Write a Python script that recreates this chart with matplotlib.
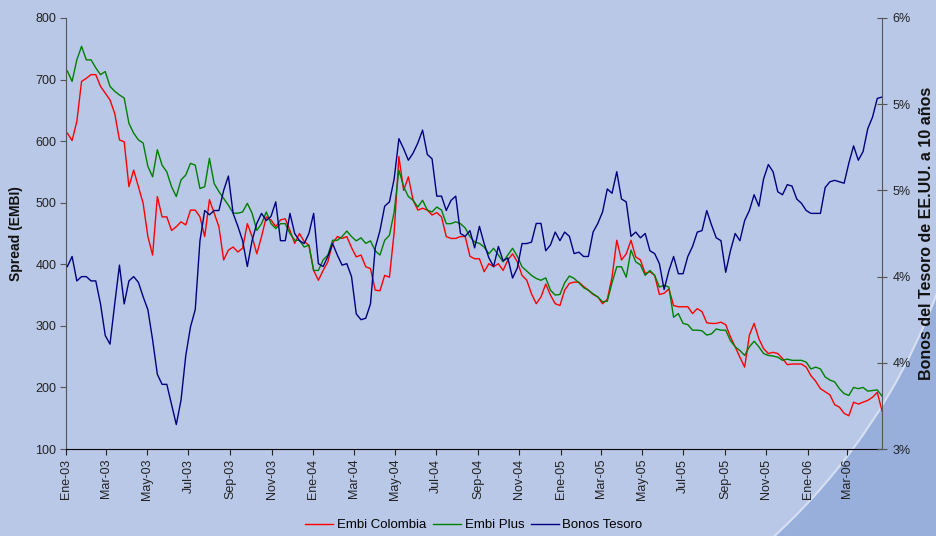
import matplotlib
matplotlib.use("Agg")
import matplotlib.pyplot as plt
import matplotlib.dates as mdates
from matplotlib.patches import Ellipse
import pandas as pd

plt.rcParams['font.family'] = ['Liberation Sans', 'DejaVu Sans']

# ---- data (weekly readings) ----
dates = pd.date_range('2003-01-03', periods=173, freq='7D')

embi_colombia = [
    613, 601, 632, 697, 702, 708, 708, 689, 678, 667, 645, 602, 599, 526, 553, 526, 499, 445, 415, 510,
    477, 477, 455, 461, 469, 464, 488, 488, 477, 445, 505, 483, 461, 407, 423, 428, 420, 426, 466, 445,
    417, 445, 477, 472, 461, 472, 474, 455, 434, 450, 437, 431, 390, 374, 390, 404, 434, 445, 442, 445,
    427, 412, 415, 396, 393, 358, 357, 382, 379, 452, 575, 520, 542, 504, 488, 491, 488, 480, 484, 477,
    445, 442, 442, 445, 445, 413, 409, 409, 388, 401, 396, 401, 390, 407, 417, 404, 382, 374, 352, 336,
    347, 368, 350, 336, 333, 358, 369, 371, 371, 364, 358, 351, 347, 336, 343, 379, 439, 407, 417, 439,
    412, 407, 385, 388, 382, 351, 353, 360, 333, 331, 331, 331, 320, 328, 323, 305, 304, 304, 306, 302,
    282, 266, 249, 233, 285, 304, 279, 263, 255, 257, 255, 247, 237, 238, 238, 238, 233, 219, 210, 198,
    193, 188, 172, 168, 158, 154, 176, 173, 176, 179, 184, 192, 162]

embi_plus = [
    714, 697, 732, 754, 732, 732, 719, 708, 713, 689, 681, 675, 670, 629, 613, 602, 597, 559, 542, 586,
    561, 550, 526, 510, 537, 545, 564, 561, 523, 526, 572, 531, 518, 507, 496, 483, 483, 485, 499, 483,
    455, 466, 485, 466, 458, 466, 466, 450, 439, 439, 428, 431, 390, 390, 407, 415, 439, 439, 445, 454,
    445, 438, 443, 434, 438, 422, 415, 439, 447, 485, 553, 526, 510, 504, 493, 504, 488, 485, 493, 488,
    466, 466, 469, 466, 459, 445, 436, 434, 428, 417, 426, 415, 404, 415, 426, 413, 396, 389, 382, 377,
    374, 378, 358, 350, 351, 370, 381, 377, 370, 362, 358, 352, 347, 339, 340, 370, 396, 396, 379, 423,
    404, 399, 382, 390, 382, 363, 366, 363, 314, 320, 304, 302, 293, 293, 292, 285, 287, 295, 293, 293,
    276, 266, 260, 252, 266, 275, 266, 255, 252, 251, 249, 244, 246, 244, 244, 244, 241, 230, 233, 230,
    217, 212, 209, 198, 190, 187, 200, 198, 200, 194, 195, 196, 186]

bonos_tesoro = [
    4.27, 4.34, 4.17, 4.20, 4.20, 4.17, 4.17, 4.01, 3.79, 3.73, 4.01, 4.28, 4.01, 4.17, 4.20, 4.16, 4.06, 3.97, 3.76, 3.52,
    3.45, 3.45, 3.31, 3.17, 3.34, 3.65, 3.85, 3.97, 4.45, 4.66, 4.63, 4.66, 4.66, 4.80, 4.90, 4.64, 4.55, 4.45, 4.27, 4.45,
    4.57, 4.64, 4.59, 4.62, 4.72, 4.45, 4.45, 4.64, 4.50, 4.45, 4.43, 4.50, 4.64, 4.29, 4.27, 4.34, 4.43, 4.35, 4.28, 4.29,
    4.20, 3.94, 3.90, 3.91, 4.01, 4.40, 4.52, 4.69, 4.72, 4.88, 5.16, 5.09, 5.01, 5.06, 5.13, 5.22, 5.05, 5.02, 4.76, 4.76,
    4.66, 4.73, 4.76, 4.50, 4.48, 4.52, 4.40, 4.55, 4.43, 4.33, 4.27, 4.41, 4.31, 4.33, 4.19, 4.26, 4.43, 4.43, 4.44, 4.57,
    4.57, 4.38, 4.42, 4.51, 4.45, 4.51, 4.48, 4.36, 4.37, 4.34, 4.34, 4.51, 4.57, 4.65, 4.81, 4.78, 4.93, 4.74, 4.72, 4.48,
    4.51, 4.47, 4.50, 4.38, 4.36, 4.29, 4.11, 4.24, 4.34, 4.22, 4.22, 4.34, 4.41, 4.51, 4.52, 4.66, 4.56, 4.47, 4.45, 4.23,
    4.38, 4.50, 4.45, 4.59, 4.66, 4.77, 4.69, 4.88, 4.98, 4.93, 4.79, 4.77, 4.84, 4.83, 4.74, 4.71, 4.66, 4.64, 4.64, 4.64,
    4.82, 4.86, 4.87, 4.86, 4.85, 4.99, 5.11, 5.01, 5.07, 5.23, 5.31, 5.44, 5.45]

month_ticks = pd.date_range('2003-01-01', '2006-03-01', freq='2MS')
tick_labels = ['Ene-03', 'Mar-03', 'May-03', 'Jul-03', 'Sep-03', 'Nov-03',
               'Ene-04', 'Mar-04', 'May-04', 'Jul-04', 'Sep-04', 'Nov-04',
               'Ene-05', 'Mar-05', 'May-05', 'Jul-05', 'Sep-05', 'Nov-05',
               'Ene-06', 'Mar-06']
left_ticks = [100, 200, 300, 400, 500, 600, 700, 800]
right_ticks = [3.0, 3.6, 4.2, 4.8, 5.4, 6.0]

# ---- figure ----
W, H = 937, 536
fig = plt.figure(figsize=(W / 100, H / 100), dpi=100)
fig.patch.set_facecolor('#97AFDA')
bg = Ellipse((354 / W, 457 / H), 2 * 621 / W, 2 * 621 / H, transform=fig.transFigure,
             facecolor='#B9C8E7', edgecolor='#D6E0F2', linewidth=1.5, zorder=0)
fig.add_artist(bg)

ax = fig.add_axes([66 / W, 1 - 449 / H, 816 / W, 431 / H])
ax.set_facecolor('none')
ax.set_zorder(2)
ax2 = ax.twinx()

l1, = ax.plot(dates, embi_colombia, color='#FF0000', lw=1.0, label='Embi Colombia')
l2, = ax.plot(dates, embi_plus, color='#008000', lw=1.0, label='Embi Plus')
l3, = ax2.plot(dates, bonos_tesoro, color='#000080', lw=1.0, label='Bonos Tesoro')

ax.set_xlim(pd.Timestamp('2003-01-01'), dates[-1])
ax.set_ylim(100, 800)
ax2.set_ylim(3, 6)

ax.set_yticks(left_ticks)
ax.set_yticklabels([str(t) for t in left_ticks])
ax2.set_yticks(right_ticks)
ax2.set_yticklabels([f"{t:.0f}%" for t in right_ticks])
ax.set_xticks(month_ticks)
ax.set_xticklabels(tick_labels, rotation=90)

for s in ['top', 'right']:
    ax.spines[s].set_visible(False)
for s in ['top', 'left', 'bottom']:
    ax2.spines[s].set_visible(False)
ax.spines['left'].set_color('#555555')
ax.spines['bottom'].set_color('#000000')
ax2.spines['right'].set_color('#555555')

ax.tick_params(axis='y', direction='out', length=4, labelsize=9, pad=3, colors='#222222')
ax.tick_params(axis='x', direction='out', length=4, labelsize=9, pad=3, colors='#222222')
ax.tick_params(axis='y', colors='#555555', labelcolor='#222222')
ax2.tick_params(axis='y', direction='inout', length=7, labelsize=9, pad=4,
                colors='#555555', labelcolor='#222222')

ax.set_ylabel('Spread (EMBI)', fontsize=10, fontweight='bold', color='#111111')
ax.yaxis.set_label_coords(-0.053, 0.5)
ax2.set_ylabel('Bonos del Tesoro de EE.UU. a 10 años', fontsize=11.5, fontweight='bold',
               color='#111111', rotation=90)
ax2.yaxis.set_label_coords(1.045, 0.5)

fig.legend(handles=[l1, l2, l3], loc='center', bbox_to_anchor=(474 / W, 1 - 525 / H),
           ncol=3, frameon=False, fontsize=9.5, handlelength=2.1, handletextpad=0.3,
           columnspacing=0.5)

fig.savefig('out.png', dpi=100, facecolor=fig.get_facecolor())
